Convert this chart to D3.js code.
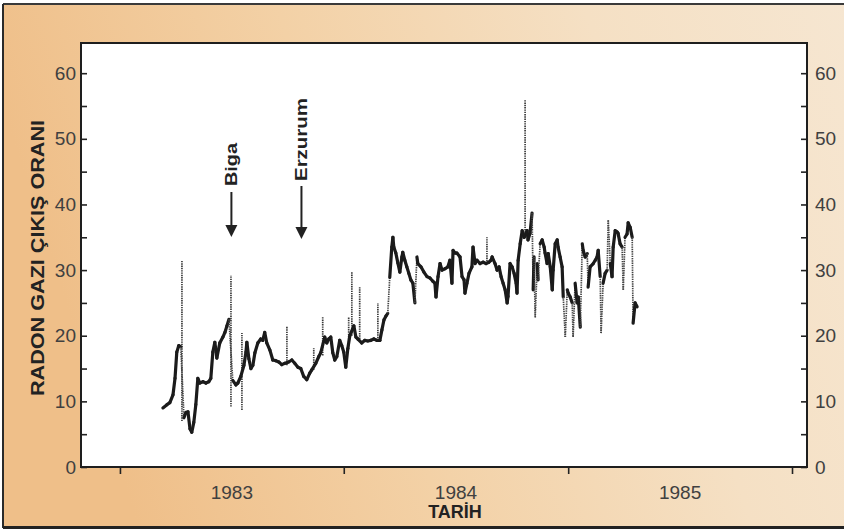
<!DOCTYPE html>
<html>
<head>
<meta charset="utf-8">
<script src="https://cdn.jsdelivr.net/npm/d3@7"></script>
<style>
  html, body { margin: 0; padding: 0; background: #ffffff; }
  svg { display: block; }
  text { font-family: "Liberation Sans", Arial, Helvetica, sans-serif; }
</style>
</head>
<body>
<svg id="chart" width="844" height="532"></svg>
<script>
// Radon gas emission rate, daily record (decimal years)
const obsYears = [
  1983.192, 1983.210, 1983.223, 1983.237, 1983.246, 1983.254, 1983.263, 1983.272,
  1983.286, 1983.295, 1983.304, 1983.313, 1983.321, 1983.330, 1983.339, 1983.348,
  1983.357, 1983.371, 1983.384, 1983.397, 1983.406, 1983.415, 1983.424, 1983.433,
  1983.446, 1983.460, 1983.469, 1983.478, 1983.487, 1983.504, 1983.518, 1983.527,
  1983.540, 1983.554, 1983.563, 1983.567, 1983.576, 1983.585, 1983.594, 1983.603,
  1983.616, 1983.629, 1983.638, 1983.647, 1983.656, 1983.670, 1983.683, 1983.696,
  1983.710, 1983.723, 1983.737, 1983.754, 1983.768, 1983.781, 1983.795, 1983.808,
  1983.821, 1983.835, 1983.848, 1983.857, 1983.875, 1983.888, 1983.897, 1983.915,
  1983.924, 1983.933, 1983.942, 1983.951, 1983.960, 1983.969, 1983.982, 1983.991,
  1984.000, 1984.009, 1984.018, 1984.027, 1984.045, 1984.054, 1984.063, 1984.080,
  1984.094, 1984.107, 1984.121, 1984.134, 1984.147, 1984.161, 1984.170, 1984.179,
  1984.188, 1984.196, 1984.205, 1984.214, 1984.219, 1984.223, 1984.232, 1984.241,
  1984.250, 1984.259, 1984.263, 1984.272, 1984.281, 1984.290, 1984.299, 1984.308,
  1984.317, 1984.326, 1984.330, 1984.344, 1984.357, 1984.371, 1984.384, 1984.397,
  1984.406, 1984.411, 1984.420, 1984.429, 1984.438, 1984.451, 1984.464, 1984.473,
  1984.482, 1984.487, 1984.496, 1984.504, 1984.518, 1984.527, 1984.536, 1984.540,
  1984.549, 1984.558, 1984.571, 1984.576, 1984.585, 1984.594, 1984.607, 1984.621,
  1984.634, 1984.647, 1984.656, 1984.661, 1984.674, 1984.683, 1984.692, 1984.701,
  1984.710, 1984.719, 1984.728, 1984.732, 1984.741, 1984.750, 1984.759, 1984.768,
  1984.772, 1984.777, 1984.786, 1984.795, 1984.804, 1984.817, 1984.821, 1984.830,
  1984.839, 1984.844, 1984.848, 1984.853, 1984.862, 1984.866, 1984.875, 1984.884,
  1984.893, 1984.897, 1984.906, 1984.911, 1984.920, 1984.929, 1984.933, 1984.942,
  1984.951, 1984.955, 1984.964, 1984.973, 1984.978, 1984.987, 1984.996, 1985.000,
  1985.009, 1985.018, 1985.022, 1985.031, 1985.040, 1985.045, 1985.054, 1985.063,
  1985.067, 1985.076, 1985.085, 1985.089, 1985.098, 1985.112, 1985.121, 1985.129,
  1985.134, 1985.143, 1985.147, 1985.156, 1985.165, 1985.174, 1985.179, 1985.188,
  1985.196, 1985.201, 1985.210, 1985.219, 1985.223, 1985.232, 1985.241, 1985.246,
  1985.254, 1985.263, 1985.268, 1985.277, 1985.286, 1985.290, 1985.299, 1985.308
];
const obsValues = [
  9.0, 9.5, 9.8, 11.0, 13.5, 17.5, 18.5, 18.3,
  7.5, 8.3, 8.4, 5.8, 5.3, 6.8, 9.5, 13.5,
  12.8, 13.0, 12.8, 13.0, 13.5, 17.5, 19.0, 16.6,
  18.9, 19.8, 20.5, 21.5, 22.5, 13.2, 12.5, 12.8,
  13.8, 15.5, 17.5, 19.0, 16.5, 15.0, 15.5, 17.4,
  18.9, 19.5, 19.3, 20.5, 18.9, 17.8, 16.3, 16.2,
  16.0, 15.6, 15.8, 16.0, 16.3, 15.8, 15.2, 15.0,
  13.8, 13.3, 14.3, 14.8, 15.8, 16.8, 17.4, 19.8,
  18.9, 19.5, 19.8, 17.4, 16.3, 16.8, 19.3, 18.5,
  17.5, 15.2, 18.0, 20.0, 21.5, 19.8, 19.5, 18.9,
  19.3, 19.2, 19.3, 19.5, 19.3, 19.3, 20.9, 22.4,
  23.0, 23.4, 28.9, 33.5, 35.0, 33.5, 32.6, 31.1,
  29.7, 32.0, 32.7, 31.5, 30.5, 29.5, 28.5, 28.0,
  25.0, 32.0, 31.0, 30.5, 29.7, 29.0, 28.8, 28.3,
  28.0, 25.9, 29.0, 31.0, 30.0, 30.2, 30.5, 31.5,
  28.0, 33.0, 32.6, 32.6, 32.0, 29.0, 28.5, 26.5,
  28.0, 29.5, 30.5, 33.5, 31.0, 31.5, 31.0, 31.2,
  31.0, 31.2, 31.5, 32.0, 31.0, 30.0, 30.5, 29.0,
  28.0, 27.0, 25.0, 26.0, 31.0, 30.5, 29.5, 28.0,
  26.5, 31.5, 34.0, 36.0, 35.0, 36.0, 34.6, 35.6,
  38.7, 27.0, 32.0, 22.8, 31.0, 28.5, 34.0, 34.6,
  33.5, 32.6, 31.0, 32.5, 30.5, 27.0, 30.0, 34.0,
  34.6, 33.5, 32.0, 30.5, 25.9, 19.8, 27.0, 26.5,
  25.9, 25.0, 19.8, 28.0, 25.0, 25.9, 21.3, 34.0,
  33.0, 32.0, 32.5, 27.4, 30.5, 31.0, 31.5, 32.0,
  33.0, 29.0, 20.4, 28.0, 29.5, 30.0, 37.6, 31.0,
  29.0, 33.5, 36.0, 35.8, 35.6, 34.0, 33.5, 27.0,
  35.0, 35.5, 37.2, 36.5, 35.0, 21.9, 25.0, 24.4
];

// Short-lived peaks recorded between daily readings
const spikeYears = [1983.277, 1983.496, 1983.545, 1983.746, 1983.866, 1983.906,
                    1984.022, 1984.036, 1984.071, 1984.152, 1984.638, 1984.808];
const spikeLow   = [7.0, 9.2, 8.7, 15.5, 14.8, 17.0, 18.0, 20.0, 19.5, 19.3, 31.0, 35.0];
const spikeHigh  = [31.5, 29.2, 20.4, 21.5, 18.1, 22.8, 22.8, 29.7, 27.4, 25.0, 35.0, 55.9];

// Earthquakes marked on the record
const eventNames = ["Biga", "Erzurum"];
const eventYears = [1983.498, 1983.811];

// Axis ticks and labels
const yTicks = [0, 5, 10, 15, 20, 25, 30, 35, 40, 45, 50, 55, 60];
const yearLabels = [1983, 1984, 1985];
const yTitle = "RADON GAZI ÇIKIŞ ORANI";
const xTitle = "TARİH";

// decimal year -> Date
function toDate(dy) {
  const yr = Math.floor(dy);
  const a = Date.UTC(yr, 0, 1), b = Date.UTC(yr + 1, 0, 1);
  return new Date(a + (dy - yr) * (b - a));
}

const svg = d3.select("#chart");
const W = 844, H = 532;
const pLeft = 81, pRight = 807, pTop = 43, pBottom = 467;

// background panel
const defs = svg.append("defs");
const grad = defs.append("linearGradient").attr("id", "bg")
  .attr("x1", "0%").attr("y1", "20%").attr("x2", "100%").attr("y2", "0%");
grad.append("stop").attr("offset", "0%").attr("stop-color", "#efbf89");
grad.append("stop").attr("offset", "35%").attr("stop-color", "#f3d1a6");
grad.append("stop").attr("offset", "70%").attr("stop-color", "#f5e0c4");
grad.append("stop").attr("offset", "100%").attr("stop-color", "#f6e6d1");

svg.append("rect").attr("x", 3).attr("y", 4).attr("width", W).attr("height", 523)
  .attr("fill", "url(#bg)");
svg.append("line").attr("x1", 3).attr("x2", W).attr("y1", 4).attr("y2", 4)
  .attr("stroke", "#3a3a3a").attr("stroke-width", 2);
svg.append("line").attr("x1", 3).attr("x2", 3).attr("y1", 4).attr("y2", 528)
  .attr("stroke", "#2a2a2a").attr("stroke-width", 2);
svg.append("line").attr("x1", 3).attr("x2", W).attr("y1", 527.5).attr("y2", 527.5)
  .attr("stroke", "#222").attr("stroke-width", 3);

// plot area
svg.append("rect").attr("x", pLeft).attr("y", pTop)
  .attr("width", pRight - pLeft).attr("height", pBottom - pTop).attr("fill", "#ffffff");

const x = d3.scaleUtc().domain([toDate(1982.826), toDate(1986.067)]).range([pLeft, pRight]);
const y = d3.scaleLinear().domain([0, 64.6]).range([pBottom, pTop]);

const fmtY = d => (d % 10 === 0 ? d : "");

const axL = svg.append("g").attr("transform", `translate(${pLeft},0)`)
  .call(d3.axisLeft(y).tickValues(yTicks).tickSize(-6).tickPadding(5).tickFormat(fmtY));
const axR = svg.append("g").attr("transform", `translate(${pRight},0)`)
  .call(d3.axisRight(y).tickValues(yTicks).tickSize(-6).tickPadding(8).tickFormat(fmtY));
const axB = svg.append("g").attr("transform", `translate(0,${pBottom})`)
  .call(d3.axisBottom(x).ticks(d3.utcYear.every(1)).tickSize(7).tickFormat(""));

[axL, axR, axB].forEach(g => {
  g.select(".domain").remove();
  g.selectAll(".tick line").attr("stroke", "#222").attr("stroke-width", 1.6);
  g.selectAll(".tick text").attr("fill", "#404040").attr("font-size", 19)
    .attr("font-family", "'Liberation Sans', Arial, sans-serif");
});

// year labels centred within each year
svg.append("g").selectAll("text").data(yearLabels).join("text")
  .attr("x", d => x(toDate(d + 0.5)))
  .attr("y", 499)
  .attr("text-anchor", "middle")
  .attr("font-size", 19).attr("fill", "#404040")
  .text(d => d);

// frame
svg.append("rect").attr("x", pLeft).attr("y", pTop)
  .attr("width", pRight - pLeft).attr("height", pBottom - pTop)
  .attr("fill", "none").attr("stroke", "#1e1e1e").attr("stroke-width", 2);

// titles
svg.append("text").attr("x", 455).attr("y", 518).attr("text-anchor", "middle")
  .attr("font-size", 18).attr("font-weight", "bold").attr("fill", "#222").text(xTitle);
svg.append("text").attr("transform", "translate(44,258) rotate(-90)")
  .attr("text-anchor", "middle").attr("font-size", 19).attr("font-weight", "bold")
  .attr("fill", "#222").attr("textLength", 276).attr("lengthAdjust", "spacingAndGlyphs")
  .text(yTitle);

// data
const pts = obsYears.map((t, i) => ({ t: toDate(t), v: obsValues[i] }));
const segs = d3.pairs(pts);
const plot = svg.append("g");

// isolated peaks: thin dotted verticals
plot.selectAll("line.spike").data(spikeYears).join("line").attr("class", "spike")
  .attr("x1", d => x(toDate(d))).attr("x2", d => x(toDate(d)))
  .attr("y1", (d, i) => y(spikeLow[i])).attr("y2", (d, i) => y(spikeHigh[i]))
  .attr("stroke", "#3a3a3a").attr("stroke-width", 1.7).attr("stroke-dasharray", "1.4,0.9");

// steep changes are drawn light and dotted, steady stretches dark and heavy
const steep = d => Math.abs(d[1].v - d[0].v) > 5;
plot.selectAll("line.seg").data(segs).join("line").attr("class", "seg")
  .attr("x1", d => x(d[0].t)).attr("y1", d => y(d[0].v))
  .attr("x2", d => x(d[1].t)).attr("y2", d => y(d[1].v))
  .attr("stroke", d => steep(d) ? "#444" : "#1b1b1b")
  .attr("stroke-width", d => steep(d) ? 1.7 : 3.2)
  .attr("stroke-dasharray", d => steep(d) ? "1.4,0.9" : null)
  .attr("stroke-linecap", d => steep(d) ? "butt" : "round");

// earthquake markers
const ev = svg.append("g").selectAll("g").data(eventNames).join("g")
  .attr("transform", (d, i) => `translate(${x(toDate(eventYears[i]))},0)`);
const textBase = [186, 181];
const lineTop = [192, 186];
const tipY = [237, 239];
ev.append("text")
  .attr("transform", (d, i) => `translate(6,${textBase[i]}) rotate(-90)`)
  .attr("font-size", 17).attr("font-weight", "bold").attr("fill", "#222")
  .attr("textLength", (d, i) => [43, 83][i]).attr("lengthAdjust", "spacingAndGlyphs")
  .text(d => d);
ev.append("line").attr("x1", 0).attr("x2", 0)
  .attr("y1", (d, i) => lineTop[i]).attr("y2", (d, i) => tipY[i] - 10)
  .attr("stroke", "#222").attr("stroke-width", 2);
ev.append("path")
  .attr("d", (d, i) => `M-6,${tipY[i] - 12}L6,${tipY[i] - 12}L0,${tipY[i]}Z`)
  .attr("fill", "#222");
</script>
</body>
</html>
